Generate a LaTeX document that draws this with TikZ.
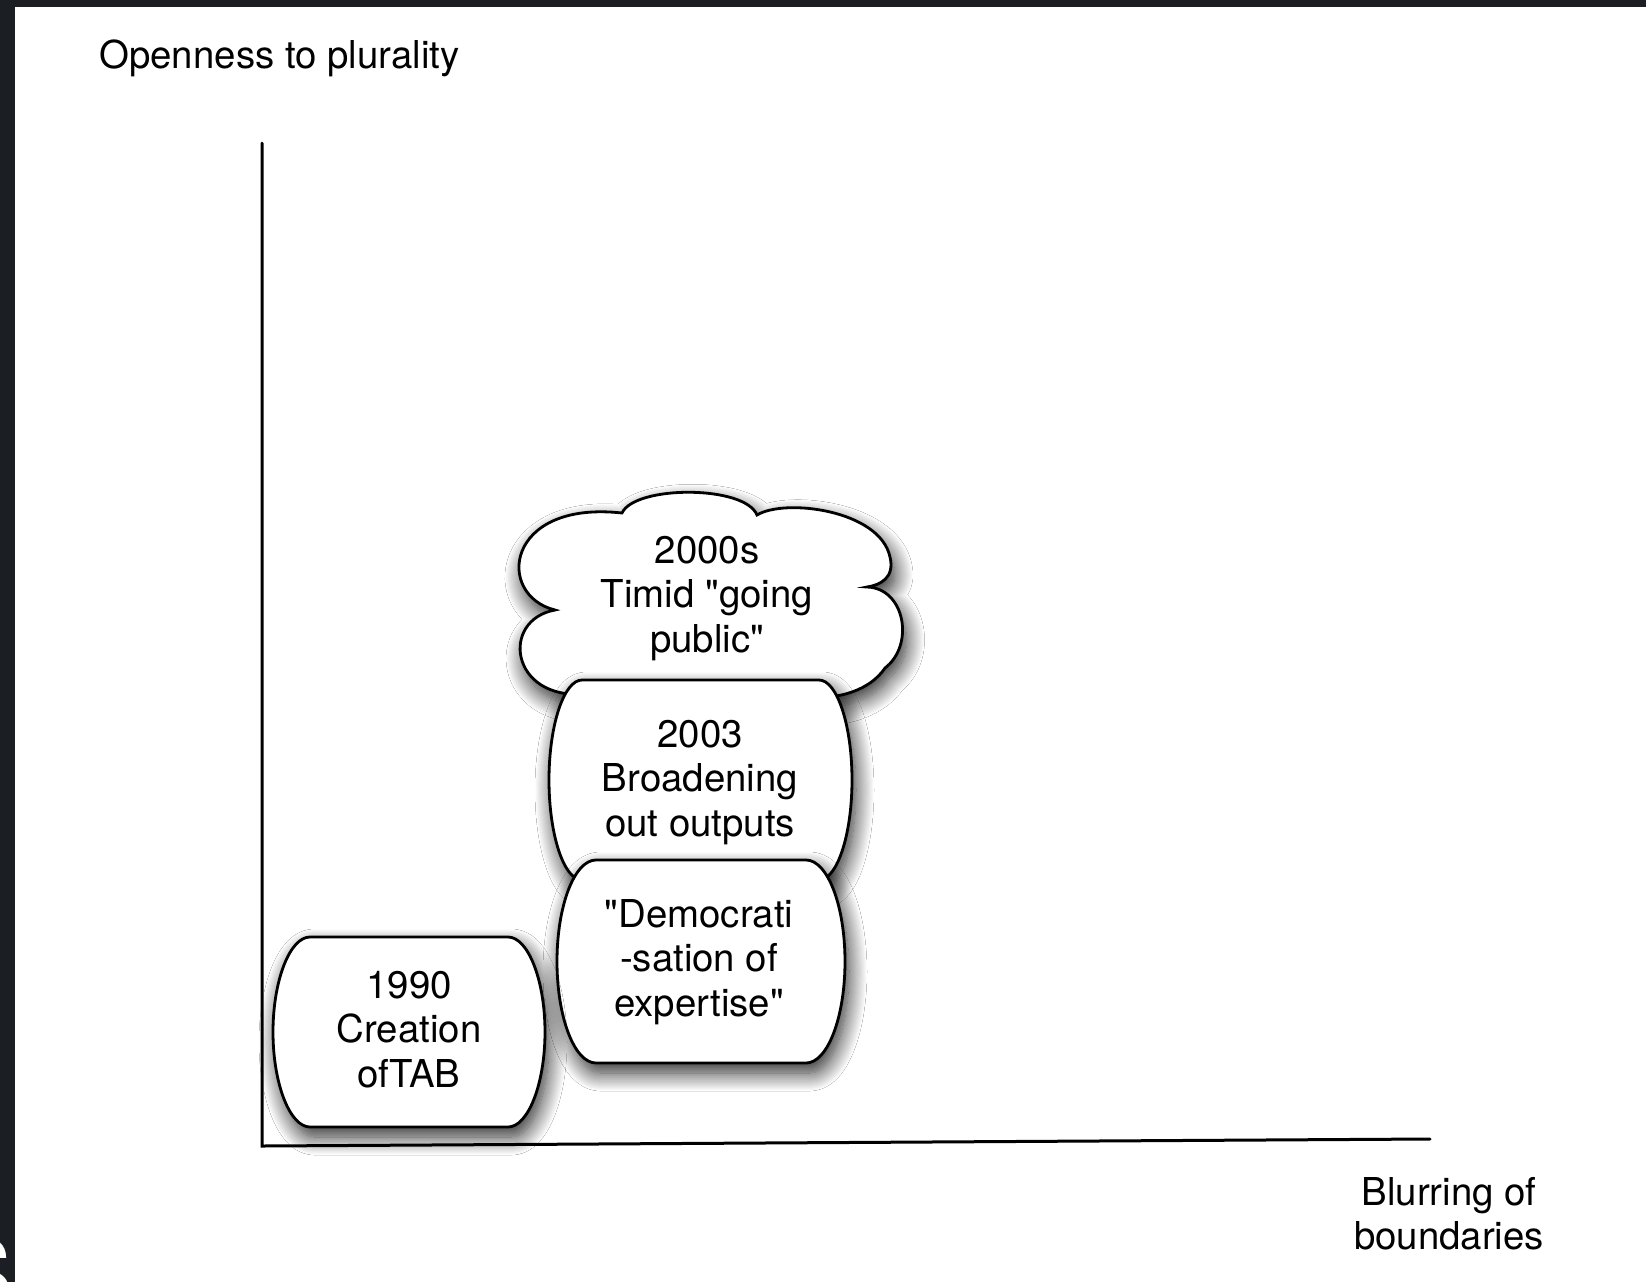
\documentclass[tikz,border=0pt]{standalone}
\usepackage{fontspec}
\setmainfont{TeX Gyre Heros}[Ligatures=TeXOff]
\usetikzlibrary{shadows.blur}
\definecolor{slateband}{RGB}{27,30,35}
\tikzset{stage/.style={draw=black,line width=1.4pt,fill=white,
			blur shadow={shadow xshift=2pt,shadow yshift=-5pt,shadow blur radius=9pt,shadow opacity=85,shadow blur steps=18}},
		axis/.style={line width=1.5pt,line cap=round},
		txt/.style={align=center,inner sep=0pt,font=\fontsize{19.2}{22.2}\selectfont}}

\begin{document}
\begin{tikzpicture}[x=0.5pt,y=-0.5pt]
	\useasboundingbox (0,0) rectangle (1646,1282);
	% slide frame
	\fill[slateband] (0,0) rectangle (1646,1282);
	\fill[white] (15,7) rectangle (1646,1282);
	\begin{scope}
		\clip (0,7) rectangle (15,1282);
		\node[anchor=north east,inner sep=0pt,text=white,font=\fontsize{48}{48}\selectfont] (slide-letter) at (14,1236) {S};
	\end{scope}
	
	% axes
	\coordinate (origin) at (262,1146);
	\coordinate (y-top) at (262,143);
	\coordinate (x-end) at (1430,1139);
	\draw[axis] (y-top) -- (origin) -- (x-end);
	\node[txt,anchor=base west] (y-label) at (99,68) {Openness to plurality};
	\node[txt] (x-label) at (1449,1214) {Blurring of\\boundaries};
	
	% cloud, then the stacked barrels
	\draw[stage] (622,513) .. controls (635,485) and (745,485) .. (757,515)
		.. controls (785,498) and (880,510) .. (890,557)
		.. controls (895,578) and (880,585) .. (867,587)
		.. controls (905,588) and (915,645) .. (885,668)
		.. controls (870,690) and (840,700) .. (800,698)
		.. controls (740,706) and (640,706) .. (585,694)
		.. controls (510,700) and (500,620) .. (555,610)
		.. controls (495,595) and (505,500) .. (622,513) -- cycle;
	\draw[stage] (582,680) -- (819,680) .. controls (837,680) and (852,725) .. (852,780) .. controls (852,835) and (837,880) .. (819,880) -- (582,880) .. controls (564,880) and (549,835) .. (549,780) .. controls (549,725) and (564,680) .. (582,680) -- cycle;
	\draw[stage] (596,860) -- (806,860) .. controls (827.5,860) and (845,905.5) .. (845,961.5) .. controls (845,1017.5) and (827.5,1063) .. (806,1063) -- (596,1063) .. controls (574.5,1063) and (557,1017.5) .. (557,961.5) .. controls (557,905.5) and (574.5,860) .. (596,860) -- cycle;
	\draw[stage] (310,937) -- (508,937) .. controls (528,937) and (545,980) .. (545,1032) .. controls (545,1084) and (528,1127) .. (508,1127) -- (310,1127) .. controls (290,1127) and (273,1084) .. (273,1032) .. controls (273,980) and (290,937) .. (310,937) -- cycle;
	
	\node[txt] (going-public) at (707,598.5) {2000s\\Timid "going\\public"};
	\node[txt] (broadening) at (700,782.5) {2003\\Broadening\\out outputs};
	\node[txt] (democratisation) at (699,962) {"Democrati\\-sation of\\expertise"};
	\node[txt] (creation) at (409,1029.5) {1990\\Creation\\ofTAB};
\end{tikzpicture}
\end{document}
